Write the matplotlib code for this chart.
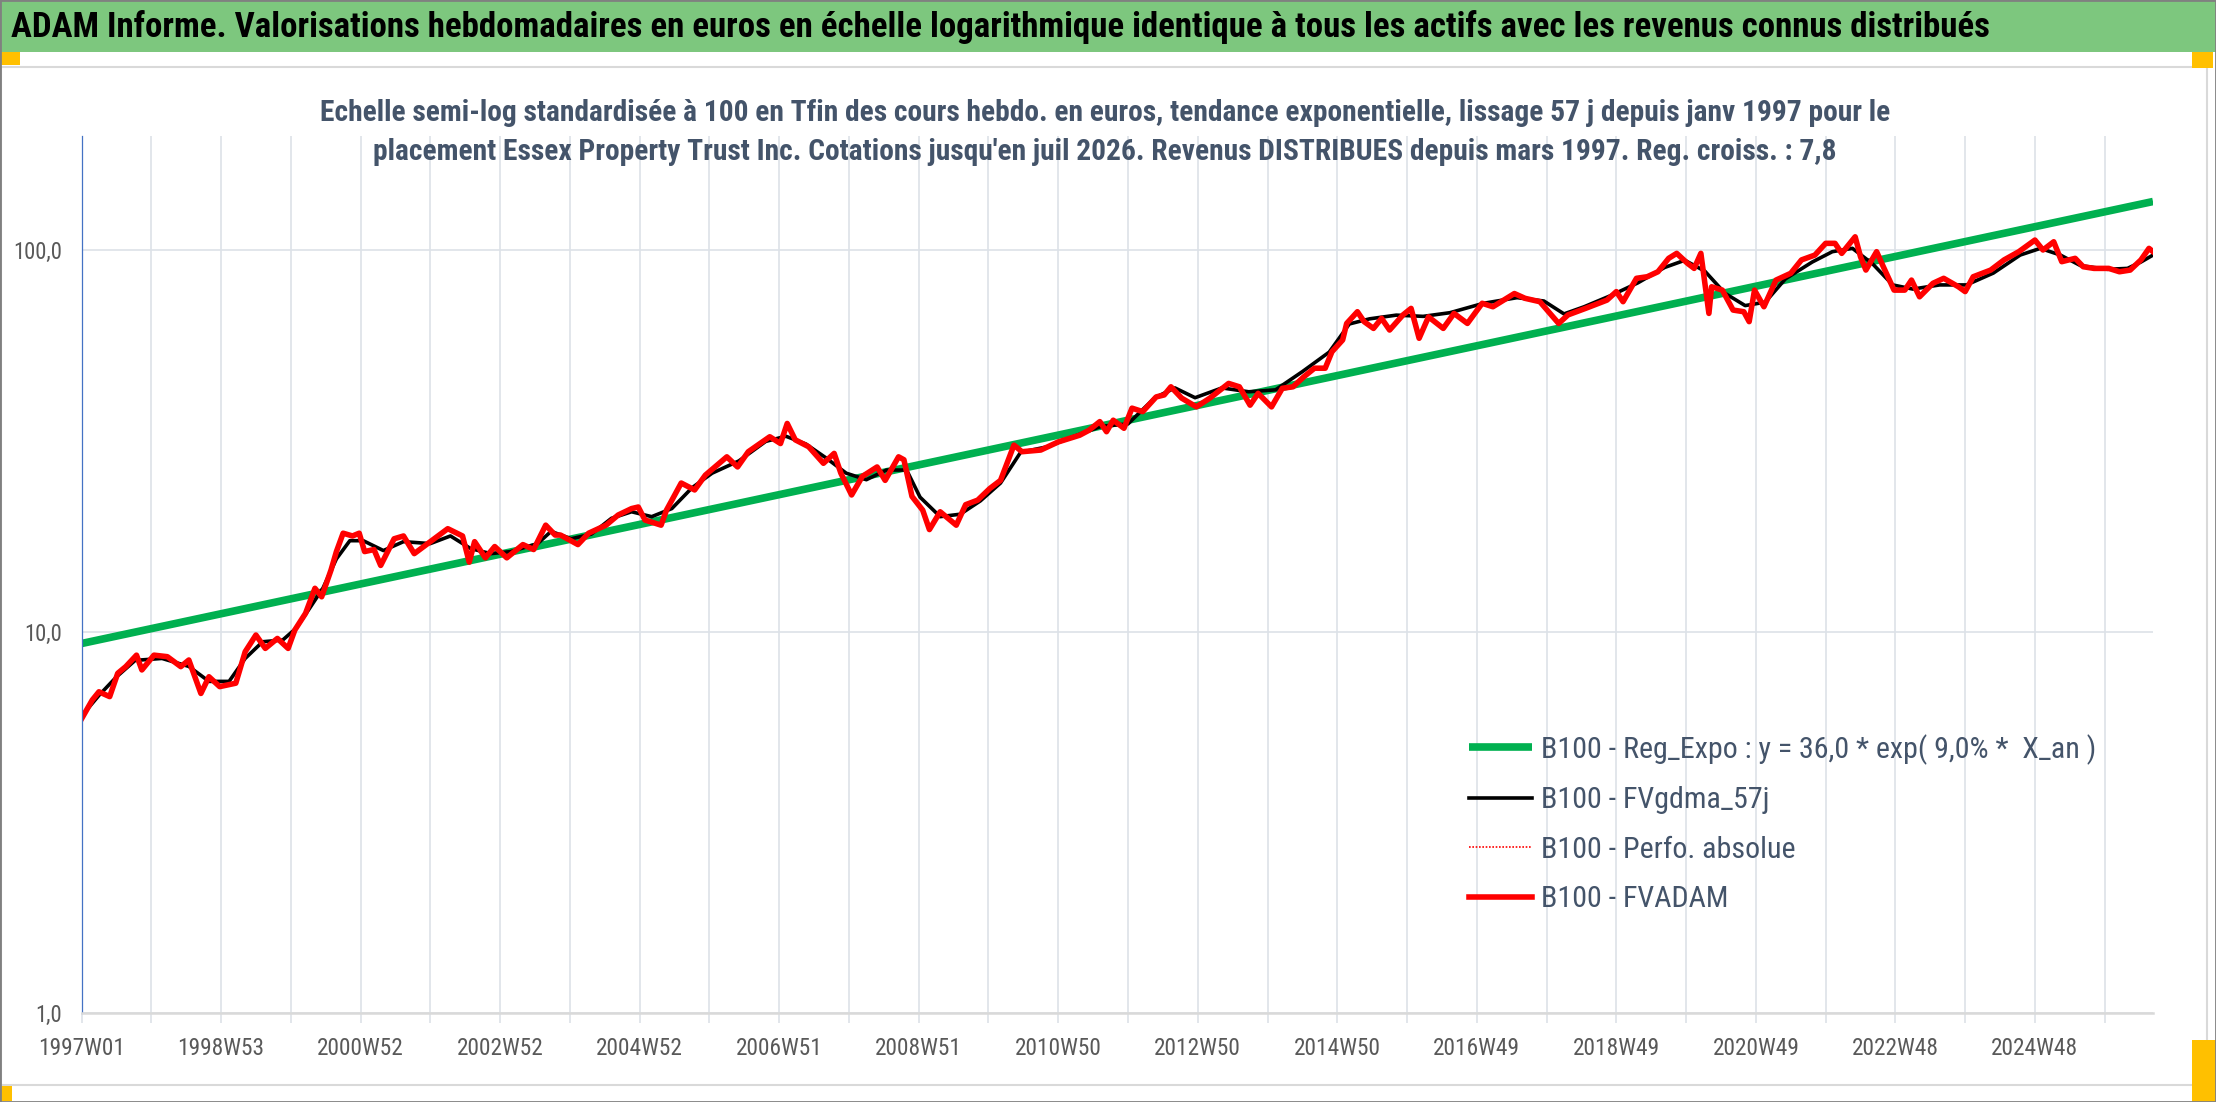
import numpy as np
import matplotlib
matplotlib.use('Agg')
import matplotlib.pyplot as plt
from matplotlib.patches import Rectangle
from matplotlib.ticker import NullLocator
from matplotlib import font_manager

# pick a narrow-ish sans close to the original Calibri look
installed = {f.name for f in font_manager.fontManager.ttflist}
family = 'DejaVu Sans'
for name in ['Liberation Sans Narrow', 'Roboto Condensed', 'Open Sans Condensed',
             'DejaVu Sans Condensed', 'Lato', 'Liberation Sans']:
    if name in installed:
        family = name
        break
plt.rcParams['font.family'] = [family, 'DejaVu Sans']

# ---- data (x = week index since 1997W01) ----
tick_weeks = [0, 104, 208, 312, 416, 520, 624, 728, 832, 936, 1040, 1144, 1248, 1352, 1456]
tick_labels = ['1997W01', '1998W53', '2000W52', '2002W52', '2004W52', '2006W51', '2008W51',
               '2010W50', '2012W50', '2014W50', '2016W49', '2018W49', '2020W49', '2022W48', '2024W48']

reg_weeks = [0, 1544]
reg_vals = [9.3, 134.0]

red_weeks = [0, 8, 13, 21, 27, 33, 41, 45, 54, 64, 74, 80, 89, 95, 103, 115, 122, 130, 137, 146,
             154, 159, 167, 174, 179, 186, 190, 195, 202, 207, 211, 218, 223, 233, 240, 248, 260,
             273, 284, 289, 293, 301, 308, 317, 329, 337, 346, 353, 357, 370, 378, 391, 400, 410,
             415, 420, 432, 436, 447, 457, 465, 481, 489, 497, 513, 521, 526, 532, 542, 553, 561,
             566, 574, 582, 593, 599, 609, 613, 619, 627, 632, 640, 652, 659, 668, 677, 685, 695,
             701, 715, 728, 744, 751, 759, 764, 769, 777, 783, 791, 801, 807, 812, 820, 831, 841,
             855, 863, 871, 877, 887, 895, 903, 911, 919, 927, 932, 940, 943, 951, 956, 963, 969,
             975, 985, 991, 997, 1004, 1015, 1023, 1033, 1044, 1052, 1068, 1076, 1087, 1101, 1108,
             1121, 1137, 1144, 1149, 1159, 1167, 1175, 1183, 1189, 1197, 1202, 1207, 1213, 1215,
             1223, 1231, 1239, 1243, 1247, 1254, 1263, 1274, 1282, 1292, 1300, 1307, 1312, 1322,
             1326, 1330, 1338, 1343, 1351, 1359, 1364, 1370, 1380, 1388, 1399, 1404, 1410, 1423,
             1433, 1444, 1456, 1462, 1470, 1476, 1486, 1492, 1500, 1511, 1519, 1527, 1535, 1541, 1544]
red_vals = [5.9, 6.61, 6.95, 6.75, 7.77, 8.09, 8.67, 7.93, 8.67, 8.59, 8.09, 8.42, 6.88, 7.61, 7.17,
            7.32, 8.85, 9.79, 9.03, 9.59, 9.03, 10.09, 11.16, 12.98, 12.33, 14.5, 16.2, 18.1, 17.8,
            18.1, 16.2, 16.4, 14.9, 17.5, 17.8, 16.0, 17.2, 18.6, 17.8, 15.2, 17.2, 15.6, 16.7, 15.6,
            16.9, 16.4, 19.0, 17.9, 17.9, 16.9, 18.1, 19.0, 20.2, 21.0, 21.2, 19.6, 19.0, 20.8, 24.5,
            23.5, 25.7, 28.7, 27.0, 29.6, 32.4, 31.1, 35.1, 31.8, 30.5, 27.6, 29.3, 26.0, 22.8, 25.5,
            27.0, 24.9, 28.7, 28.2, 22.6, 20.8, 18.5, 20.6, 19.0, 21.5, 22.1, 23.7, 24.9, 30.8, 29.6,
            29.9, 31.4, 32.7, 33.7, 35.5, 33.4, 35.8, 34.1, 38.5, 37.7, 41.2, 41.7, 43.8, 40.9, 38.8,
            40.9, 44.7, 43.8, 39.2, 42.1, 38.8, 43.4, 43.8, 46.5, 49.0, 49.0, 54.1, 58.1, 64.2, 68.9,
            64.9, 62.3, 66.2, 61.7, 67.6, 70.3, 58.7, 66.8, 62.3, 68.2, 64.2, 72.5, 71.0, 76.9, 74.7,
            73.2, 64.2, 67.6, 70.3, 73.9, 77.8, 73.2, 84.3, 85.1, 87.7, 95.1, 98.0, 92.3, 89.5, 98.0,
            68.2, 80.1, 78.5, 69.6, 68.9, 64.9, 78.5, 71.0, 83.4, 86.9, 94.2, 97.0, 104.1, 104.1,
            98.0, 108.3, 96.0, 88.6, 99.0, 90.4, 78.5, 78.5, 83.4, 75.4, 81.8, 84.3, 80.1, 77.8,
            85.1, 88.6, 94.2, 99.0, 106.2, 100.0, 105.1, 93.2, 95.1, 90.4, 89.5, 89.5, 87.7, 88.6,
            94.2, 101.0, 99.0]

smooth_weeks = [0, 13, 26, 40, 60, 80, 95, 110, 122, 135, 150, 160, 170, 180, 190, 200, 210, 225,
                240, 260, 275, 290, 305, 320, 340, 350, 365, 380, 395, 410, 425, 440, 455, 470, 490,
                510, 525, 540, 555, 570, 585, 600, 615, 625, 640, 655, 670, 685, 700, 720, 740, 760,
                780, 800, 815, 830, 850, 870, 890, 910, 930, 945, 960, 980, 1000, 1020, 1045, 1070,
                1090, 1105, 1120, 1140, 1160, 1180, 1195, 1210, 1225, 1240, 1255, 1270, 1290, 1305,
                1320, 1335, 1350, 1365, 1385, 1405, 1425, 1445, 1460, 1475, 1490, 1510, 1525, 1535, 1544]
smooth_vals = [6.0, 6.8, 7.6, 8.4, 8.5, 8.1, 7.4, 7.4, 8.5, 9.4, 9.5, 10.2, 11.5, 13.0, 15.5, 17.3,
               17.3, 16.3, 17.2, 17.0, 17.8, 16.5, 16.0, 16.2, 17.0, 18.3, 17.5, 18.0, 19.8, 20.6,
               20.0, 21.0, 23.8, 26.0, 28.0, 31.5, 32.5, 31.0, 28.5, 26.0, 25.0, 26.5, 26.5, 22.5,
               20.0, 20.3, 22.0, 24.5, 29.5, 30.5, 32.5, 34.5, 35.0, 41.0, 43.5, 41.0, 43.5, 42.5,
               43.0, 48.0, 54.0, 64.0, 66.0, 67.5, 67.0, 68.5, 72.5, 75.0, 73.5, 68.0, 71.0, 76.0,
               82.0, 90.0, 94.0, 88.0, 77.0, 71.5, 73.0, 84.0, 93.0, 99.0, 101.0, 92.0, 81.0, 79.0,
               81.0, 81.0, 87.0, 97.0, 101.0, 97.0, 91.0, 89.0, 89.5, 93.0, 97.0]

title = ("ADAM Informe. Valorisations hebdomadaires en euros en échelle logarithmique "
         "identique à tous les actifs avec les revenus connus distribués")
sub1 = ("Echelle semi-log standardisée à 100 en Tfin des cours hebdo. en euros, tendance exponentielle, "
        "lissage 57 j depuis janv 1997 pour le")
sub2 = ("placement Essex Property Trust Inc. Cotations jusqu'en juil 2026. Revenus DISTRIBUES "
        "depuis mars 1997. Reg. croiss. : 7,8")
leg_labels = ['B100 - Reg_Expo : y = 36,0 * exp( 9,0% *  X_an )', 'B100 - FVgdma_57j',
              'B100 - Perfo. absolue', 'B100 - FVADAM']

W, H = 2216, 1102
fig = plt.figure(figsize=(W / 100, H / 100), dpi=100)
fig.patch.set_facecolor('white')
renderer = fig.canvas.get_renderer()


def fx(px):
    return px / W


def fy(py):
    return 1 - py / H


def fit_size(s, target_px, weight='normal'):
    # font size that makes string s about target_px wide
    t = fig.text(0, 0, s, fontsize=20, weight=weight)
    w = t.get_window_extent(renderer).width
    t.remove()
    return 20 * target_px / w


# header band and frame
fig.add_artist(Rectangle((0, fy(52)), 1, 52 / H, transform=fig.transFigure,
                         facecolor='#7DC77E', edgecolor='none'))
fig.add_artist(Rectangle((fx(1), fy(1085)), fx(2206), (1085 - 67) / H, transform=fig.transFigure,
                         fill=False, edgecolor='#D9D9D9', lw=1.5))
for x0, y0, x1, y1 in [(0, 52, 20, 65), (2192, 52, 2213, 68), (0, 1086, 12, 1101), (2192, 1040, 2216, 1102)]:
    fig.add_artist(Rectangle((fx(x0), fy(y1)), fx(x1 - x0), (y1 - y0) / H, transform=fig.transFigure,
                             facecolor='#FFC000', edgecolor='none'))
fig.add_artist(Rectangle((0, 0), 1, 1, transform=fig.transFigure, fill=False,
                         edgecolor='#808080', lw=2))

fig.text(fx(11), fy(27), title, fontsize=fit_size(title, 1978, 'bold'), weight='bold',
         color='black', ha='left', va='center')

sub_size = fit_size(sub1, 1566, 'bold')
fig.text(fx(1105), fy(113), sub1, fontsize=sub_size, weight='bold', color='#44546A',
         ha='center', va='center')
fig.text(fx(1105), fy(152), sub2, fontsize=sub_size, weight='bold', color='#44546A',
         ha='center', va='center')

ax = fig.add_axes([fx(81.5), fy(1013), fx(2153 - 81.5), (1013 - 136) / H])
ax.set_facecolor('none')

ax.plot(reg_weeks, reg_vals, color='#00B050', lw=5.5, solid_capstyle='butt', label=leg_labels[0])
ax.plot(smooth_weeks, smooth_vals, color='black', lw=2.6, label=leg_labels[1])
ax.plot(red_weeks, red_vals, color='red', lw=1.2, ls=(0, (1, 1)), label=leg_labels[2])
ax.plot(red_weeks, red_vals, color='red', lw=4.0, solid_joinstyle='round', label=leg_labels[3])

ax.set_yscale('log')
ax.set_ylim(1, 199)
ax.set_xlim(0, 1544)

tick_size = fit_size('1997W01', 87)
grid_c = '#DDE2E8'
ax.set_xticks(tick_weeks)
ax.set_xticklabels(tick_labels)
ax.set_xticks(np.arange(52, 1545, 104), minor=True)
ax.grid(axis='x', which='both', color=grid_c, lw=1.2)
ax.tick_params(axis='x', which='both', length=7.5, width=1.2, color=grid_c, pad=10,
               labelsize=tick_size, labelcolor='#595959')

ax.set_yticks([1, 10, 100])
ax.set_yticklabels(['1,0', '10,0', '100,0'])
ax.yaxis.set_minor_locator(NullLocator())
ax.grid(axis='y', which='major', color=grid_c, lw=1.2)
ax.tick_params(axis='y', length=0, pad=14, labelsize=fit_size('100,0', 49), labelcolor='#595959')

for s in ['top', 'right']:
    ax.spines[s].set_visible(False)
ax.spines['left'].set_color('#4472C4')
ax.spines['left'].set_linewidth(0.9)
ax.spines['bottom'].set_color('#D9D9D9')
ax.spines['bottom'].set_linewidth(1.8)
ax.set_axisbelow(True)

leg_size = fit_size(leg_labels[0], 555)
font_px = leg_size * 100 / 72
leg = ax.legend(loc='upper left', bbox_to_anchor=(fx(1442), fy(707)), bbox_transform=fig.transFigure,
                frameon=False, fontsize=leg_size, handlelength=63 / font_px,
                handletextpad=0.3, labelspacing=(59 - 1.25 * font_px) / font_px)
for t in leg.get_texts():
    t.set_color('#44546A')

fig.savefig('out.png', dpi=100)
